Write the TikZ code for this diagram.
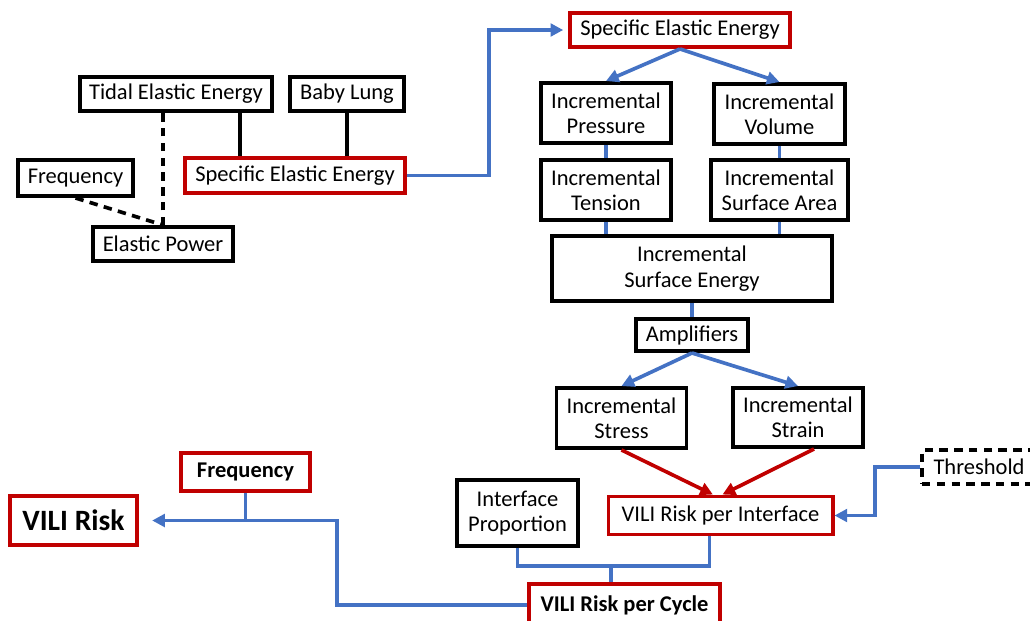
\documentclass[tikz,border=0pt]{standalone}
\usepackage{fontspec}
\setmainfont{Carlito}
\usetikzlibrary{arrows.meta}
\definecolor{flowblue}{HTML}{4472C4}
\definecolor{riskred}{HTML}{C00000}
\tikzstyle{block} = [rectangle, draw, line width=2.8pt, inner sep=0pt, align=center, font=\fontsize{16}{18}\selectfont]
\tikzstyle{riskblock} = [block, draw=riskred]
\tikzstyle{flow} = [draw=flowblue, line width=2.6pt]
\tikzstyle{hit} = [draw=riskred, line width=2.6pt]
\tikzstyle{tie} = [draw=black, line width=2.6pt]
\tikzstyle{maybe} = [dash pattern=on 6pt off 4.5pt]

\begin{document}
\begin{tikzpicture}[x=0.025cm, y=-0.025cm, >={Triangle[length=9pt,width=9pt]}]
    \useasboundingbox (0,0) rectangle (1030,620);

    % left: energy inputs
    \node[block, minimum width=4.8cm, minimum height=0.85cm] (tidal) at (176,94) {Tidal Elastic Energy};
    \node[block, minimum width=2.85cm, minimum height=0.85cm] (babylung) at (347,94) {Baby Lung};
    \node[block, minimum width=2.875cm, minimum height=0.9cm] (freqleft) at (75.5,178) {Frequency};
    \node[riskblock, minimum width=5.5cm, minimum height=0.875cm] (seeleft) at (295,175.5) {Specific Elastic Energy};
    \node[block, minimum width=3.5cm, minimum height=0.85cm] (power) at (163,244) {Elastic Power};

    % right: incremental chain
    \node[riskblock, minimum width=5.5cm, minimum height=0.85cm] (seetop) at (680,30) {Specific Elastic Energy};
    \node[block, minimum width=3.25cm, minimum height=1.5cm] (pressure) at (606,113) {Incremental\\Pressure};
    \node[block, minimum width=3.275cm, minimum height=1.5cm] (volume) at (779.5,114) {Incremental\\Volume};
    \node[block, minimum width=3.25cm, minimum height=1.5cm] (tension) at (606,190) {Incremental\\Tension};
    \node[block, minimum width=3.425cm, minimum height=1.5cm] (area) at (779.5,190) {Incremental\\Surface Area};
    \node[block, minimum width=7cm, minimum height=1.625cm] (surface) at (692,268.5) {Incremental\\Surface Energy};
    \node[block, minimum width=2.8cm, minimum height=0.8cm] (amplifiers) at (692,335) {Amplifiers};
    \node[block, minimum width=3.25cm, minimum height=1.5cm] (stress) at (621.5,418) {Incremental\\Stress};
    \node[block, minimum width=3.25cm, minimum height=1.475cm] (strain) at (798,417.5) {Incremental\\Strain};

    % bottom: risk
    \node[block, maybe, minimum width=2.85cm, minimum height=0.85cm] (threshold) at (979,467) {Threshold};
    \node[riskblock, minimum width=5.6cm, minimum height=0.95cm] (perinterface) at (720.5,515.5) {VILI Risk per Interface};
    \node[block, minimum width=3.025cm, minimum height=1.65cm] (proportion) at (517.5,513) {Interface\\Proportion};
    \node[riskblock, minimum width=4.775cm, minimum height=1.05cm, font=\fontsize{16}{18}\selectfont\bfseries] (percycle) at (624.5,605) {VILI Risk per Cycle};
    \node[riskblock, minimum width=3.225cm, minimum height=0.95cm, font=\fontsize{16}{18}\selectfont\bfseries] (freqright) at (245.5,472) {Frequency};
    \node[riskblock, minimum width=3.175cm, minimum height=1.225cm, font=\fontsize{21}{24}\selectfont\bfseries] (vilirisk) at (73.5,520.5) {VILI Risk};

    \coordinate (tidalfoot) at ([xshift=-1.375cm]seeleft.north);
    \coordinate (merge) at (611,566);
    \coordinate (interfacefoot) at ([xshift=-0.275cm]perinterface.south);

    \draw[tie, maybe] (power.north) -- (power.north |- tidal.south);
    \draw[tie, maybe] (freqleft.south) -- (power.north);
    \draw[tie] (tidalfoot) -- (tidalfoot |- tidal.south);
    \draw[tie] (babylung.south) -- (babylung.south |- seeleft.north);

    \draw[flow, ->, shorten >=0.12cm] (seeleft.east) -- ++(82,0) |- (seetop.west);
    \draw[flow, ->] (seetop.south) -- (pressure.north);
    \draw[flow, ->] (seetop.south) -- (volume.north);
    \draw[flow] (pressure) -- (tension);
    \draw[flow] (volume) -- (area);
    \draw[flow] (tension.south) -- (tension.south |- surface.north);
    \draw[flow] (area.south) -- (area.south |- surface.north);
    \draw[flow] (surface) -- (amplifiers);
    \draw[flow, ->] (amplifiers.south) -- (stress.north);
    \draw[flow, ->] (amplifiers.south) -- (strain.north);

    \draw[hit, ->] (stress.south) -- ([xshift=-0.19cm]perinterface.north);
    \draw[hit, ->] ([xshift=0.4cm]strain.south) -- ([xshift=0.05cm]perinterface.north);
    \draw[flow, ->] (threshold.west) -- ++(-45,0) |- (perinterface.east);
    \draw[flow] (proportion.south) |- (merge) -| (interfacefoot);
    \draw[flow] (merge) -- (merge |- percycle.north);
    \draw[flow, ->, shorten >=0.33cm] (percycle.west) -- ++(-190,0) |- (vilirisk.east);
    \draw[flow] (freqright.south) -- (freqright.south |- vilirisk.east);
\end{tikzpicture}
\end{document}
